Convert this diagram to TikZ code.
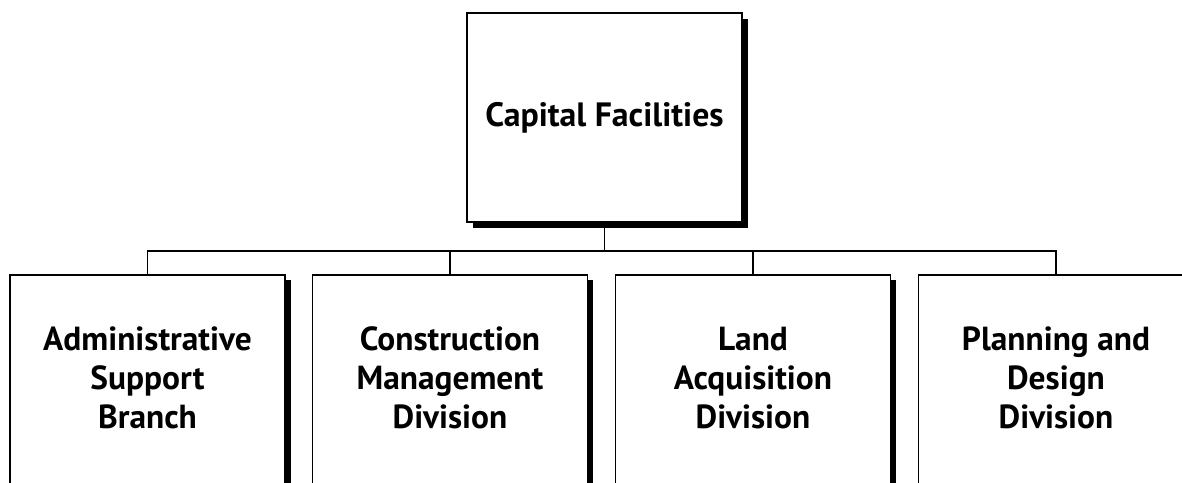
\documentclass[tikz,border=0pt]{standalone}
\usepackage{fontspec}
\setmainfont{PT Sans}
\usetikzlibrary{positioning,shadows}
\tikzset{
  unit/.style={draw, rectangle, line width=0.9pt, fill=white, minimum width=5.5cm, inner sep=0pt,
    drop shadow={shadow xshift=0.11cm, shadow yshift=-0.11cm, fill=black, opacity=1}},
  topunit/.style={unit, minimum height=4.18cm, font=\bfseries\fontsize{19.2}{22}\selectfont},
  subunit/.style={unit, minimum height=5cm, anchor=north},
  unitlbl/.style={align=center, font=\bfseries\fontsize{19}{22.2}\selectfont, inner sep=0pt},
  link/.style={line width=0.9pt},
}
\begin{document}
\begin{tikzpicture}
\useasboundingbox (0,0) rectangle (23.64,-9.64);
\clip (0,0) rectangle (23.64,-9.64);
\node[topunit] (cf) at (12.09,-2.35) {Capital Facilities};
\node[subunit] (asb) at (2.95,-5.48) {};
\node[subunit] (cmd) at (9.00,-5.48) {};
\node[subunit] (lad) at (15.06,-5.48) {};
\node[subunit] (pdd) at (21.12,-5.48) {};
\node[unitlbl] (asbt) at (2.95,-7.56) {Administrative\\Support\\Branch};
\node[unitlbl] (cmdt) at (9.00,-7.56) {Construction\\Management\\Division};
\node[unitlbl] (ladt) at (15.06,-7.56) {Land\\Acquisition\\Division};
\node[unitlbl] (pddt) at (21.12,-7.56) {Planning and\\Design\\Division};
% tree lines
\coordinate (bus) at (cf.south |- 0,-5.02);
\draw[link] (cf.south) -- (bus);
\draw[link] (asb.north) -- (asb.north |- bus) -- (pdd.north |- bus) -- (pdd.north);
\draw[link] (cmd.north) -- (cmd.north |- bus);
\draw[link] (lad.north) -- (lad.north |- bus);
\end{tikzpicture}
\end{document}
